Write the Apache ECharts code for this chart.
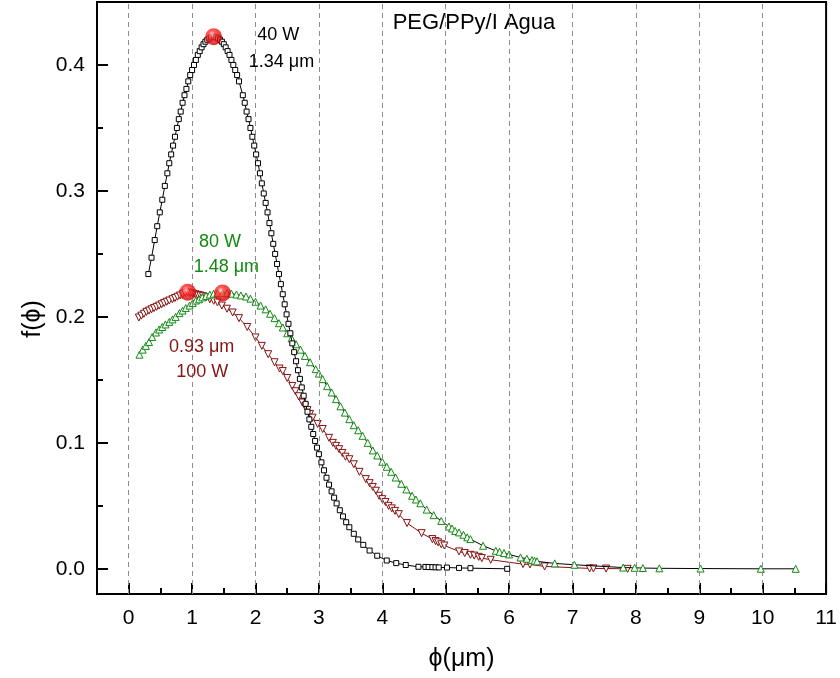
<!DOCTYPE html>
<html>
<head>
<meta charset="utf-8">
<script src="https://cdn.jsdelivr.net/npm/echarts@6/dist/echarts.min.js"></script>
<style>
  html, body { margin: 0; padding: 0; background: #fff; }
  #chart { width: 840px; height: 678px; }
</style>
</head>
<body>
<div id="chart"></div>
<script>
// Size distributions f(phi) of PEG/PPy/I particles in water, for three plasma powers.
const data40W = [
  [0.31,0.234],[0.36,0.247],[0.41,0.261],[0.45,0.272],[0.49,0.283],[0.53,0.293],[0.57,0.304],
  [0.61,0.314],[0.64,0.322],[0.67,0.329],[0.70,0.336],[0.73,0.343],[0.76,0.350],[0.79,0.357],
  [0.82,0.363],[0.85,0.370],[0.88,0.376],[0.91,0.381],[0.94,0.387],[0.97,0.392],[1.00,0.396],
  [1.03,0.400],[1.06,0.404],[1.09,0.408],[1.12,0.411],[1.15,0.414],[1.18,0.4165],[1.21,0.4185],
  [1.24,0.420],[1.27,0.421],[1.30,0.422],[1.34,0.4225],[1.38,0.422],[1.41,0.421],[1.44,0.420],
  [1.47,0.4185],[1.50,0.4165],[1.53,0.414],[1.56,0.411],[1.59,0.408],[1.62,0.404],[1.65,0.400],
  [1.68,0.396],[1.71,0.392],[1.74,0.387],[1.80,0.376],[1.83,0.370],[1.86,0.363],[1.89,0.357],
  [1.92,0.350],[1.95,0.343],[1.98,0.336],[2.01,0.329],[2.04,0.322],[2.07,0.314],[2.10,0.306],
  [2.13,0.298],[2.16,0.2905],[2.19,0.283],[2.22,0.2745],[2.25,0.2664],[2.28,0.258],[2.31,0.250],
  [2.34,0.242],[2.37,0.234],[2.40,0.226],[2.43,0.218],[2.46,0.210],[2.49,0.202],[2.52,0.1945],
  [2.55,0.187],[2.58,0.179],[2.61,0.172],[2.64,0.1648],[2.67,0.1577],[2.70,0.1508],[2.73,0.144],
  [2.76,0.1374],[2.79,0.131],[2.82,0.1247],[2.85,0.1186],[2.88,0.1127],[2.91,0.107],[2.94,0.1015],
  [2.97,0.0962],[3.00,0.091],[3.04,0.0845],[3.08,0.0782],[3.12,0.0723],[3.16,0.0668],[3.20,0.0615],
  [3.24,0.0565],[3.28,0.0519],[3.33,0.0465],[3.38,0.0416],[3.43,0.037],[3.48,0.033],[3.55,0.0278],
  [3.62,0.0233],[3.70,0.019],[3.80,0.0145],[3.92,0.0104],[4.07,0.0066],[4.22,0.0045],[4.37,0.003],
  [4.57,0.0016],[4.68,0.0015],[4.73,0.0014],[4.79,0.0013],[4.84,0.0012],[4.89,0.0011],[5.02,0.001],
  [5.21,0.0007],[5.39,0.0005],[5.97,0.0]
];

const data80W = [
  [0.17,0.170],[0.22,0.174],[0.27,0.177],[0.32,0.180],[0.37,0.184],[0.43,0.1876],[0.48,0.190],
  [0.53,0.192],[0.58,0.194],[0.64,0.196],[0.69,0.198],[0.74,0.200],[0.80,0.203],[0.85,0.205],
  [0.90,0.207],[0.96,0.209],[1.01,0.211],[1.06,0.213],[1.11,0.214],[1.16,0.2155],[1.22,0.2167],
  [1.28,0.2177],[1.34,0.2184],[1.40,0.2188],[1.48,0.219],[1.55,0.2188],[1.62,0.2184],[1.70,0.2178],
  [1.77,0.217],[1.85,0.2162],[1.92,0.2145],[2.00,0.212],[2.08,0.209],[2.16,0.206],[2.23,0.2025],
  [2.30,0.199],[2.37,0.195],[2.43,0.1916],[2.50,0.187],[2.57,0.183],[2.64,0.1783],[2.71,0.174],
  [2.78,0.169],[2.86,0.164],[2.95,0.1585],[3.00,0.155],[3.06,0.1506],[3.13,0.145],[3.20,0.140],
  [3.27,0.1347],[3.34,0.129],[3.41,0.124],[3.48,0.1188],[3.55,0.114],[3.62,0.110],[3.69,0.1056],
  [3.77,0.100],[3.85,0.094],[3.92,0.090],[4.00,0.085],[4.07,0.081],[4.14,0.077],[4.21,0.0725],
  [4.30,0.0675],[4.38,0.063],[4.47,0.058],[4.53,0.055],[4.60,0.052],[4.70,0.047],[4.81,0.0426],
  [4.93,0.038],[5.05,0.0336],[5.10,0.032],[5.15,0.030],[5.21,0.0289],[5.28,0.027],[5.34,0.025],
  [5.39,0.0236],[5.59,0.0183],[5.79,0.0143],[5.85,0.0135],[5.92,0.0125],[6.00,0.0114],[6.18,0.009],
  [6.28,0.008],[6.36,0.0069],[6.40,0.0064],[6.44,0.0059],[6.72,0.0043],[7.03,0.0032],[7.80,0.001],
  [7.98,0.0008],[8.11,0.0006],[8.37,0.0004],[9.02,0.0002],[9.97,0.0],[10.52,0.0]
];

const data100W = [
  [0.16,0.1995],[0.20,0.201],[0.24,0.2025],[0.28,0.204],[0.32,0.205],[0.36,0.206],[0.40,0.207],
  [0.44,0.208],[0.48,0.209],[0.52,0.210],[0.56,0.211],[0.60,0.212],[0.64,0.213],[0.69,0.214],
  [0.73,0.215],[0.77,0.216],[0.81,0.217],[0.85,0.218],[0.89,0.219],[0.93,0.2195],[0.97,0.219],
  [1.01,0.2185],[1.05,0.218],[1.09,0.2175],[1.13,0.217],[1.17,0.2165],[1.22,0.2155],[1.28,0.214],
  [1.34,0.2128],[1.40,0.2115],[1.47,0.209],[1.55,0.2065],[1.64,0.2035],[1.74,0.199],[1.87,0.192],
  [2.00,0.1837],[2.10,0.177],[2.20,0.1704],[2.30,0.164],[2.38,0.159],[2.43,0.157],[2.50,0.1515],
  [2.58,0.1452],[2.63,0.141],[2.68,0.137],[2.74,0.132],[2.78,0.129],[2.82,0.126],[2.86,0.123],
  [2.90,0.120],[2.98,0.115],[3.06,0.111],[3.16,0.104],[3.22,0.100],[3.27,0.0976],[3.32,0.095],
  [3.37,0.092],[3.42,0.089],[3.48,0.087],[3.55,0.083],[3.64,0.077],[3.74,0.0712],[3.80,0.068],
  [3.85,0.065],[3.90,0.062],[3.95,0.058],[4.00,0.0553],[4.05,0.053],[4.10,0.050],[4.15,0.048],
  [4.20,0.046],[4.26,0.0434],[4.39,0.0363],[4.62,0.0283],[4.79,0.0236],[4.84,0.022],[4.88,0.021],
  [4.93,0.0195],[4.98,0.0185],[5.21,0.0138],[5.30,0.0125],[5.39,0.0111],[5.45,0.0105],[5.52,0.0095],
  [5.57,0.0085],[5.71,0.0072],[6.22,0.0037],[6.33,0.0035],[6.56,0.0019],[7.27,0.0003],[7.33,0.0003],
  [7.53,0.0002],[7.87,0.0]
];

// Most probable diameters (distribution maxima)
const peaks = [[1.34,0.4225],[0.93,0.2195],[1.48,0.219]];

// Text notes placed in data coordinates: [phi, f, text, colour]
const notes = [
  [2.36,0.4236,'40 W','#000'],
  [2.41,0.4025,'1.34 \u03bcm','#000'],
  [1.44,0.2592,'80 W','#138a13'],
  [1.54,0.2394,'1.48 \u03bcm','#138a13'],
  [1.15,0.1757,'0.93 \u03bcm','#861414'],
  [1.16,0.1563,'100 W','#861414']
];

const xMajor = [0,1,2,3,4,5,6,7,8,9,10,11];
const xMinor = [0.5,1.5,2.5,3.5,4.5,5.5,6.5,7.5,8.5,9.5,10.5];
const xGrid  = [0,1,2,3,4,5,6,7,8,9,10];
const yMajor = [0,0.1,0.2,0.3,0.4];
const yMinor = [0.05,0.15,0.25,0.35];

const FONT = '"Liberation Sans", Arial, sans-serif';
const GREEN = '#138a13';
const DARKRED = '#861010';

const chart = echarts.init(document.getElementById('chart'), null, { renderer: 'canvas' });

const baseX = {
  type: 'value', min: -0.5, max: 11, position: 'bottom',
  splitLine: { show: false }
};
const baseY = {
  type: 'value', min: -0.02, max: 0.45, position: 'left',
  splitLine: { show: false }
};

chart.setOption({
  animation: false,
  backgroundColor: '#fff',
  grid: { left: 97, right: 10, top: 2, bottom: 84, show: true, borderColor: '#000', borderWidth: 2, backgroundColor: 'transparent' },
  xAxis: [
    Object.assign({}, baseX, {
      name: '\u03d5(\u03bcm)', nameLocation: 'middle', nameGap: 53,
      nameTextStyle: { fontFamily: FONT, fontSize: 25, color: '#000' },
      axisLine: { show: true, onZero: false, lineStyle: { color: '#000', width: 2 } },
      axisTick: { show: true, inside: true, length: 11, customValues: xMajor, lineStyle: { color: '#000', width: 2 } },
      axisLabel: { show: true, customValues: xMajor, margin: 14, fontFamily: FONT, fontSize: 21, color: '#000',
                   formatter: v => String(v) }
    }),
    Object.assign({}, baseX, {
      axisLine: { show: false, onZero: false },
      axisTick: { show: true, inside: true, length: 6, customValues: xMinor, lineStyle: { color: '#000', width: 2 } },
      axisLabel: { show: false }
    })
  ],
  yAxis: [
    Object.assign({}, baseY, {
      axisLine: { show: true, onZero: false, lineStyle: { color: '#000', width: 2 } },
      axisTick: { show: true, inside: true, length: 11, customValues: yMajor, lineStyle: { color: '#000', width: 2 } },
      axisLabel: { show: true, customValues: yMajor, margin: 12, fontFamily: FONT, fontSize: 21, color: '#000',
                   formatter: v => v.toFixed(1) }
    }),
    Object.assign({}, baseY, {
      axisLine: { show: false, onZero: false },
      axisTick: { show: true, inside: true, length: 6, customValues: yMinor, lineStyle: { color: '#000', width: 2 } },
      axisLabel: { show: false }
    })
  ],
  graphic: [
    {
      type: 'text', x: 33, y: 319, rotation: Math.PI / 2,
      style: { text: 'f(\u03d5)', font: '25px ' + FONT, fill: '#000', align: 'center', verticalAlign: 'middle' }
    },
    {
      type: 'text', x: 474, y: 23,
      style: { text: 'PEG/PPy/I Agua', font: '22px ' + FONT, fill: '#000', align: 'center', verticalAlign: 'middle' }
    }
  ],
  series: [
    {
      // vertical dashed guides at each integer phi
      type: 'line', data: [], z: 1, silent: true,
      markLine: {
        silent: true, symbol: 'none', label: { show: false },
        lineStyle: { color: '#8c8c8c', width: 1, type: [5, 4] },
        data: xGrid.map(v => ({ xAxis: v }))
      }
    },
    {
      name: '100 W', type: 'line', data: data100W, z: 3,
      symbol: 'triangle', symbolRotate: 180, symbolSize: 7, showAllSymbol: true,
      lineStyle: { color: DARKRED, width: 1 },
      itemStyle: { color: '#fff', borderColor: DARKRED, borderWidth: 1 }
    },
    {
      name: '80 W', type: 'line', data: data80W, z: 4,
      symbol: 'triangle', symbolSize: 7, showAllSymbol: true,
      lineStyle: { color: '#000', width: 1 },
      itemStyle: { color: '#fff', borderColor: GREEN, borderWidth: 1 }
    },
    {
      name: '40 W', type: 'line', data: data40W, z: 5,
      symbol: 'rect', symbolSize: 5, showAllSymbol: true,
      lineStyle: { color: '#000', width: 1 },
      itemStyle: { color: '#fff', borderColor: '#000', borderWidth: 1 }
    },
    {
      name: 'peaks', type: 'scatter', data: peaks, z: 8,
      symbol: 'circle', symbolSize: 17,
      itemStyle: {
        color: {
          type: 'radial', x: 0.4, y: 0.35, r: 0.65,
          colorStops: [
            { offset: 0, color: '#ffd8d8' },
            { offset: 0.3, color: '#ff3030' },
            { offset: 1, color: '#d00000' }
          ]
        }
      }
    },
    {
      name: 'notes', type: 'scatter', z: 9, symbolSize: 0, silent: true,
      itemStyle: { opacity: 1 },
      data: notes.map(n => ({
        value: [n[0], n[1]],
        label: { show: true, position: 'inside', formatter: n[2], color: n[3], opacity: 1,
                 textBorderWidth: 0, textBorderColor: 'transparent',
                 fontFamily: FONT, fontSize: 18 }
      }))
    }
  ]
});
</script>
</body>
</html>
